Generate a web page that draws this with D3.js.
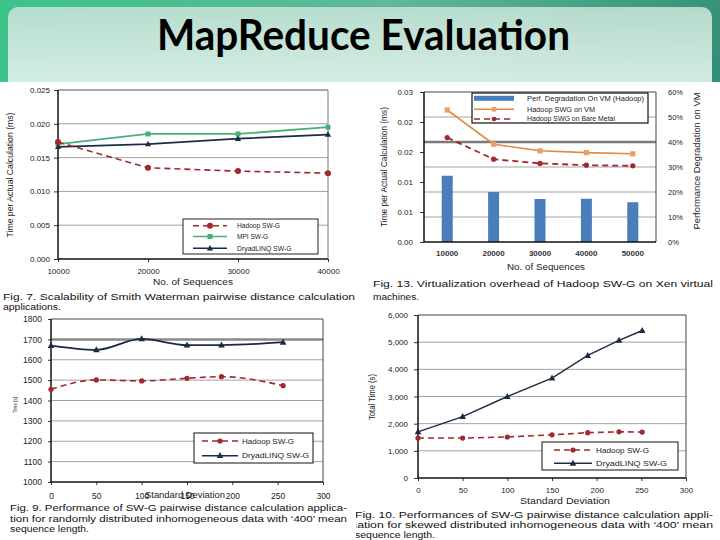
<!DOCTYPE html>
<html><head><meta charset="utf-8">
<script src="https://cdn.jsdelivr.net/npm/d3@7"></script>
<style>body{margin:0;padding:0;background:#fff}svg{display:block}</style>
</head><body>
<script>
// ---------- DATA ----------
const titleText = "MapReduce Evaluation";

// Fig. 7
const fig7X = [10000, 20000, 30000, 40000];
const fig7Hadoop = [0.0173, 0.0135, 0.0130, 0.0127];
const fig7MPI = [0.0170, 0.0185, 0.0185, 0.0195];
const fig7Dryad = [0.0166, 0.0170, 0.0178, 0.0184];
const fig7YTicks = [0, 0.005, 0.010, 0.015, 0.020, 0.025];
const fig7Legend = ["Hadoop SW-G", "MPI SW-G", "DryadLINQ SW-G"];

// Fig. 13
const fig13X = ["10000", "20000", "30000", "40000", "50000"];
const fig13Degradation = [26.5, 20.0, 17.2, 17.3, 15.9];
const fig13VM = [0.0220, 0.0163, 0.0152, 0.0149, 0.0147];
const fig13Bare = [0.0174, 0.0138, 0.0131, 0.0128, 0.0127];
const fig13LeftTicks = [0, 0.005, 0.010, 0.015, 0.020, 0.025];
const fig13LeftLabels = ["0.00", "0.01", "0.01", "0.02", "0.02", "0.03"];
const fig13RightTicks = [0, 10, 20, 30, 40, 50, 60];
const fig13Legend = ["Perf. Degradation On VM (Hadoop)", "Hadoop SWG on VM", "Hadoop SWG on Bare Metal"];

// Fig. 9
const fig9X = [0, 50, 100, 150, 188, 256];
const fig9Dryad = [1669, 1648, 1702, 1672, 1672, 1686];
const fig9Hadoop = [1455, 1501, 1496, 1509, 1517, 1473];
const fig9YTicks = [1000, 1100, 1200, 1300, 1400, 1500, 1600, 1700, 1800];
const fig9XTicks = [0, 50, 100, 150, 200, 250, 300];
const fig9Legend = ["Hadoop SW-G", "DryadLINQ SW-G"];

// Fig. 10
const fig10X = [0, 50, 100, 150, 190, 225, 251];
const fig10Dryad = [1700, 2260, 3000, 3680, 4510, 5070, 5430];
const fig10Hadoop = [1470, 1470, 1510, 1590, 1670, 1700, 1690];
const fig10YTicks = [0, 1000, 2000, 3000, 4000, 5000, 6000];
const fig10XTicks = [0, 50, 100, 150, 200, 250, 300];
const fig10Legend = ["Hadoop SW-G", "DryadLINQ SW-G"];

// captions
const cap7 = ["Fig. 7. Scalability of Smith Waterman pairwise distance calculation", "applications."];
const cap13 = ["Fig. 13. Virtualization overhead of Hadoop SW-G on Xen virtual", "machines."];
const cap9 = ["Fig. 9. Performance of SW-G pairwise distance calculation applica-", "tion for randomly distributed inhomogeneous data with \u2018400\u2019 mean", "sequence length."];
const cap10 = ["Fig. 10. Performances of SW-G pairwise distance calculation appli-", "cation for skewed distributed inhomogeneous data with \u2018400\u2019 mean", "sequence length."];

// ---------- STYLE ----------
const FONT = "'Liberation Sans', Arial, sans-serif";
const RED = "#a3272d", GREEN = "#45b07a", NAVY = "#1c2b45", ORANGE = "#e08a3c", BLUE = "#4a7ebb";
const GRID = "#a3a3a3";

const svg = d3.select("body").append("svg").attr("width", 720).attr("height", 540)
  .style("font-family", FONT);

const defs = svg.append("defs");
const bg = defs.append("linearGradient").attr("id", "bg").attr("x1", 0).attr("y1", 0).attr("x2", 1).attr("y2", 0.3);
bg.append("stop").attr("offset", "0%").attr("stop-color", "#3cc489");
bg.append("stop").attr("offset", "50%").attr("stop-color", "#5fb89a");
bg.append("stop").attr("offset", "100%").attr("stop-color", "#2f8a72");
const tb = defs.append("linearGradient").attr("id", "tb").attr("x1", 0).attr("y1", 0).attr("x2", 0).attr("y2", 1);
tb.append("stop").attr("offset", "0%").attr("stop-color", "#bfe0d3");
tb.append("stop").attr("offset", "60%").attr("stop-color", "#dcefe7");
tb.append("stop").attr("offset", "100%").attr("stop-color", "#f0f8f4");
defs.append("clipPath").attr("id", "clipR").append("rect").attr("x", 356).attr("y", 0).attr("width", 364).attr("height", 540);

svg.append("rect").attr("width", 720).attr("height", 540).attr("fill", "url(#bg)");
svg.append("rect").attr("x", 8).attr("y", 7).attr("width", 704).attr("height", 110).attr("rx", 10).attr("fill", "url(#tb)").attr("opacity", 0.92);
svg.append("text").attr("x", 157).attr("y", 50).attr("textLength", 413).attr("lengthAdjust", "spacingAndGlyphs")
  .style("font-family", "Lato, 'Open Sans', sans-serif").style("font-weight", 700).style("font-size", "42px")
  .attr("fill", "#000").text(titleText);
// white picture area
svg.append("rect").attr("x", 0).attr("y", 82).attr("width", 720).attr("height", 458).attr("fill", "#fff");

// ---------- HELPERS ----------
function text(g, x, y, s, o = {}) {
  const t = g.append("text").attr("x", x).attr("y", y).text(s)
    .style("font-size", (o.size || 8) + "px").attr("fill", o.fill || "#222")
    .attr("text-anchor", o.anchor || "start");
  if (o.len) t.attr("textLength", o.len).attr("lengthAdjust", "spacingAndGlyphs");
  if (o.weight) t.style("font-weight", o.weight);
  if (o.rot) t.attr("transform", `rotate(-90,${x},${y})`);
  return t;
}
function marker(g, type, x, y, color, size) {
  const s = size || 3;
  if (type === "circle") g.append("circle").attr("cx", x).attr("cy", y).attr("r", s).attr("fill", color);
  else if (type === "square") g.append("rect").attr("x", x - s).attr("y", y - s).attr("width", 2 * s).attr("height", 2 * s).attr("fill", color);
  else if (type === "tri") g.append("path").attr("d", `M${x},${y - s * 1.2}L${x + s * 1.1},${y + s * 0.8}L${x - s * 1.1},${y + s * 0.8}Z`).attr("fill", color);
}
function series(g, xs, ys, xf, yf, o) {
  const pts = xs.map((d, i) => [xf(d), yf(ys[i])]);
  const line = d3.line().curve(o.curve || d3.curveLinear);
  g.append("path").attr("d", line(pts)).attr("fill", "none").attr("stroke", o.color)
    .attr("stroke-width", o.width || 1.6).attr("stroke-dasharray", o.dash || null);
  pts.forEach(p => marker(g, o.marker, p[0], p[1], o.mcolor || o.color, o.msize));
}
function legendLine(g, x0, x1, y, o) {
  g.append("line").attr("x1", x0).attr("x2", x1).attr("y1", y).attr("y2", y).attr("stroke", o.color)
    .attr("stroke-width", o.width || 1.6).attr("stroke-dasharray", o.dash || null);
  marker(g, o.marker, (x0 + x1) / 2, y, o.mcolor || o.color, o.msize);
}
function styleAxis(a, size) {
  a.select(".domain").remove();
  a.selectAll("text").style("font-size", size + "px").style("font-family", FONT).attr("fill", "#222");
  a.selectAll(".tick line").attr("stroke", "#333");
}

// ---------- FIG 7 ----------
{
  const g = svg.append("g");
  const x = d3.scaleLinear().domain([10000, 40000]).range([58, 328]);
  const y = d3.scaleLinear().domain([0, 0.025]).range([259, 90]);
  fig7YTicks.filter(d => d > 0).forEach(d => g.append("line").attr("x1", 58).attr("x2", 328)
    .attr("y1", y(d)).attr("y2", y(d)).attr("stroke", d === 0.025 ? "#555" : GRID).attr("stroke-width", 1));
  g.append("line").attr("x1", 328).attr("x2", 328).attr("y1", 90).attr("y2", 259).attr("stroke", "#777");
  const ya = g.append("g").attr("transform", "translate(58,0)")
    .call(d3.axisLeft(y).tickValues(fig7YTicks).tickFormat(d3.format(".3f")).tickSize(4).tickPadding(4));
  styleAxis(ya, 8);
  const xa = g.append("g").attr("transform", "translate(0,259)")
    .call(d3.axisBottom(x).tickValues(fig7X).tickFormat(d => String(d)).tickSize(3).tickPadding(6));
  styleAxis(xa, 8);
  g.append("line").attr("x1", 58).attr("x2", 58).attr("y1", 90).attr("y2", 259).attr("stroke", "#111").attr("stroke-width", 1.5);
  g.append("line").attr("x1", 58).attr("x2", 328).attr("y1", 259).attr("y2", 259).attr("stroke", "#111").attr("stroke-width", 1.5);

  series(g, fig7X, fig7MPI, x, y, {color: GREEN, marker: "square", msize: 2.5, width: 1.8});
  series(g, fig7X, fig7Dryad, x, y, {color: NAVY, marker: "tri", msize: 2.8, width: 1.8});
  series(g, fig7X, fig7Hadoop, x, y, {color: RED, marker: "circle", msize: 3, dash: "6,4", width: 1.6});

  text(g, 13, 175, "Time per Actual Calculation (ms)", {size: 9, anchor: "middle", rot: true, len: 125});
  text(g, 193, 285, "No. of Sequences", {size: 8.5, anchor: "middle", len: 80});

  const lg = g.append("g");
  lg.append("rect").attr("x", 183).attr("y", 219).attr("width", 135).attr("height", 35).attr("fill", "#fff").attr("stroke", "#222");
  const rows = [225.7, 236.5, 248.3];
  const sty = [{color: RED, marker: "circle", msize: 3, dash: "6,4"}, {color: GREEN, marker: "square", msize: 2.5}, {color: NAVY, marker: "tri", msize: 2.8}];
  fig7Legend.forEach((s, i) => {
    legendLine(lg, 193, 227, rows[i], sty[i]);
    text(lg, 237, rows[i] + 2.7, s, {size: 7.5, len: s.length * 3.9});
  });
  cap7.forEach((s, i) => text(g, 3, 300 + i * 10, s, {size: 8.5, fill: "#111", len: i === 0 ? 352 : 58}));
}

// ---------- FIG 13 ----------
{
  const g = svg.append("g");
  const x = d3.scaleBand().domain(fig13X).range([424, 656]);
  const yL = d3.scaleLinear().domain([0, 0.025]).range([242, 92]);
  const yR = d3.scaleLinear().domain([0, 60]).range([242, 92]);
  fig13RightTicks.filter(d => d > 0).forEach(d => g.append("line").attr("x1", 424).attr("x2", 656)
    .attr("y1", yR(d)).attr("y2", yR(d)).attr("stroke", d === 40 ? "#7a7a7a" : (d === 60 ? "#444" : GRID))
    .attr("stroke-width", d === 40 ? 2.5 : 1));
  g.append("line").attr("x1", 656).attr("x2", 656).attr("y1", 92).attr("y2", 242).attr("stroke", "#444");
  g.selectAll("rect.bar").data(fig13X).enter().append("rect")
    .attr("x", d => x(d) + x.bandwidth() / 2 - 5.5).attr("width", 11)
    .attr("y", (d, i) => yR(fig13Degradation[i])).attr("height", (d, i) => 242 - yR(fig13Degradation[i]))
    .attr("fill", BLUE);
  const cx = d => x(d) + x.bandwidth() / 2;
  series(g, fig13X, fig13VM, cx, yL, {color: ORANGE, marker: "square", mcolor: "#e9a066", msize: 2.6, width: 1.6});
  series(g, fig13X, fig13Bare, cx, yL, {color: RED, marker: "circle", msize: 2.6, dash: "6,4", width: 1.8});

  const la = g.append("g").attr("transform", "translate(424,0)")
    .call(d3.axisLeft(yL).tickValues(fig13LeftTicks).tickFormat((d, i) => fig13LeftLabels[i]).tickSize(4).tickPadding(7));
  styleAxis(la, 8);
  const ra = g.append("g").attr("transform", "translate(656,0)")
    .call(d3.axisRight(yR).tickValues(fig13RightTicks).tickFormat(d => d + "%").tickSize(0).tickPadding(12));
  styleAxis(ra, 7.5);
  const ba = g.append("g").attr("transform", "translate(0,242)")
    .call(d3.axisBottom(x).tickSize(0).tickPadding(8));
  styleAxis(ba, 8);
  ba.selectAll("text").style("font-weight", 700).attr("fill", "#333");
  g.append("line").attr("x1", 424).attr("x2", 424).attr("y1", 92).attr("y2", 242).attr("stroke", "#111").attr("stroke-width", 1.5);
  g.append("line").attr("x1", 424).attr("x2", 656).attr("y1", 242).attr("y2", 242).attr("stroke", "#111").attr("stroke-width", 1.5);

  text(g, 387, 167, "Time per Actual Calculation (ms)", {size: 9, anchor: "middle", rot: true, len: 120});
  text(g, 700, 161, "Performance Degradation on VM", {size: 9, anchor: "middle", rot: true, len: 137});
  text(g, 546, 270, "No. of Sequences", {size: 8.5, anchor: "middle", len: 78});

  const lg = g.append("g");
  lg.append("rect").attr("x", 472).attr("y", 93).attr("width", 176).attr("height", 30).attr("fill", "#fff").attr("stroke", "#111").attr("stroke-width", 1.2);
  const rows = [98.3, 109.3, 119];
  lg.append("rect").attr("x", 474).attr("y", rows[0] - 2.5).attr("width", 40).attr("height", 5).attr("fill", BLUE);
  legendLine(lg, 474, 514, rows[1], {color: ORANGE, marker: "square", mcolor: "#e9a066", msize: 2.3});
  legendLine(lg, 474, 514, rows[2], {color: RED, marker: "circle", msize: 2.3, dash: "6,4"});
  const lens = [117, 68, 88];
  fig13Legend.forEach((s, i) => text(lg, 527, rows[i] + 2.3, s, {size: 6.5, len: lens[i]}));
  cap13.forEach((s, i) => text(g, 373, 287 + i * 13, s, {size: 8.5, fill: "#111", len: i === 0 ? 340 : 46}));
}

// ---------- FIG 9 ----------
{
  const g = svg.append("g");
  const x = d3.scaleLinear().domain([0, 300]).range([51, 323]);
  const y = d3.scaleLinear().domain([1000, 1800]).range([482, 319]);
  fig9YTicks.filter(d => d > 1000).forEach(d => g.append("line").attr("x1", 51).attr("x2", 323)
    .attr("y1", y(d)).attr("y2", y(d)).attr("stroke", d === 1700 ? "#8a8a8a" : (d === 1800 ? "#444" : GRID))
    .attr("stroke-width", d === 1700 ? 2.5 : 1));
  g.append("line").attr("x1", 323).attr("x2", 323).attr("y1", 319).attr("y2", 482).attr("stroke", "#444");
  const ya = g.append("g").attr("transform", "translate(51,0)")
    .call(d3.axisLeft(y).tickValues(fig9YTicks).tickFormat(d => String(d)).tickSize(3).tickPadding(6));
  styleAxis(ya, 8.5);
  const xa = g.append("g").attr("transform", "translate(0,482)")
    .call(d3.axisBottom(x).tickValues(fig9XTicks).tickFormat(d => String(d)).tickSize(3).tickPadding(8));
  styleAxis(xa, 8.5);
  g.append("line").attr("x1", 51).attr("x2", 51).attr("y1", 319).attr("y2", 482).attr("stroke", "#111").attr("stroke-width", 1.5);
  g.append("line").attr("x1", 51).attr("x2", 323).attr("y1", 482).attr("y2", 482).attr("stroke", "#111").attr("stroke-width", 1.5);

  series(g, fig9X, fig9Dryad, x, y, {color: NAVY, marker: "tri", msize: 3, width: 1.8, curve: d3.curveMonotoneX});
  series(g, fig9X, fig9Hadoop, x, y, {color: RED, marker: "circle", msize: 2.6, dash: "6,4", width: 1.6, curve: d3.curveMonotoneX});

  text(g, 17, 405, "Time [s]", {size: 5.5, anchor: "middle", rot: true, len: 16});
  text(g, 185, 498, "Standard Deviation", {size: 8.5, anchor: "middle", len: 80});

  const lg = g.append("g");
  lg.append("rect").attr("x", 194).attr("y", 433).attr("width", 119).attr("height", 30).attr("fill", "#fff").attr("stroke", "#111");
  const rows = [441, 455.7];
  const sty = [{color: RED, marker: "circle", msize: 2.6, dash: "6,4"}, {color: NAVY, marker: "tri", msize: 3}];
  fig9Legend.forEach((s, i) => {
    legendLine(lg, 202, 238, rows[i], sty[i]);
    text(lg, 242, rows[i] + 2.5, s, {size: 7.5, len: i === 0 ? 52 : 67});
  });
  cap9.forEach((s, i) => text(g, 10, 511 + i * 10.5, s, {size: 8.5, fill: "#111", len: [337, 337, 79][i]}));
}

// ---------- FIG 10 ----------
{
  const g = svg.append("g");
  const x = d3.scaleLinear().domain([0, 300]).range([418, 686]);
  const y = d3.scaleLinear().domain([0, 6000]).range([478, 315]);
  fig10YTicks.filter(d => d > 0).forEach(d => g.append("line").attr("x1", 418).attr("x2", 686)
    .attr("y1", y(d)).attr("y2", y(d)).attr("stroke", d === 6000 ? "#444" : GRID).attr("stroke-width", 1));
  g.append("line").attr("x1", 686).attr("x2", 686).attr("y1", 315).attr("y2", 478).attr("stroke", "#444");
  const ya = g.append("g").attr("transform", "translate(418,0)")
    .call(d3.axisLeft(y).tickValues(fig10YTicks).tickFormat(d3.format(",")).tickSize(4).tickPadding(6));
  styleAxis(ya, 8);
  const xa = g.append("g").attr("transform", "translate(0,478)")
    .call(d3.axisBottom(x).tickValues(fig10XTicks).tickFormat(d => String(d)).tickSize(3).tickPadding(6));
  styleAxis(xa, 8);
  g.append("line").attr("x1", 418).attr("x2", 418).attr("y1", 315).attr("y2", 478).attr("stroke", "#111").attr("stroke-width", 1.5);
  g.append("line").attr("x1", 418).attr("x2", 686).attr("y1", 478).attr("y2", 478).attr("stroke", "#111").attr("stroke-width", 1.5);

  series(g, fig10X, fig10Hadoop, x, y, {color: RED, marker: "circle", msize: 2.6, dash: "6,4", width: 1.6});
  series(g, fig10X, fig10Dryad, x, y, {color: NAVY, marker: "tri", msize: 3, width: 1.4});

  text(g, 375, 397, "Total Time (s)", {size: 8.5, anchor: "middle", rot: true, len: 46});
  text(g, 565, 504, "Standard Deviation", {size: 8.5, anchor: "middle", len: 90});

  const lg = g.append("g");
  lg.append("rect").attr("x", 542).attr("y", 442).attr("width", 136).attr("height", 28).attr("fill", "#fff").attr("stroke", "#111");
  const rows = [450, 463.3];
  const sty = [{color: RED, marker: "circle", msize: 2.6, dash: "6,4"}, {color: NAVY, marker: "tri", msize: 3}];
  fig10Legend.forEach((s, i) => {
    legendLine(lg, 554, 592, rows[i], sty[i]);
    text(lg, 596, rows[i] + 2.5, s, {size: 7.5, len: i === 0 ? 53 : 71});
  });
  const cg = g.append("g").attr("clip-path", "url(#clipR)");
  cap10.forEach((s, i) => text(cg, [355, 351, 355][i], 518 + i * 10, s, {size: 8.5, fill: "#111", len: [358, 362, 80][i]}));
}
</script>
</body></html>
